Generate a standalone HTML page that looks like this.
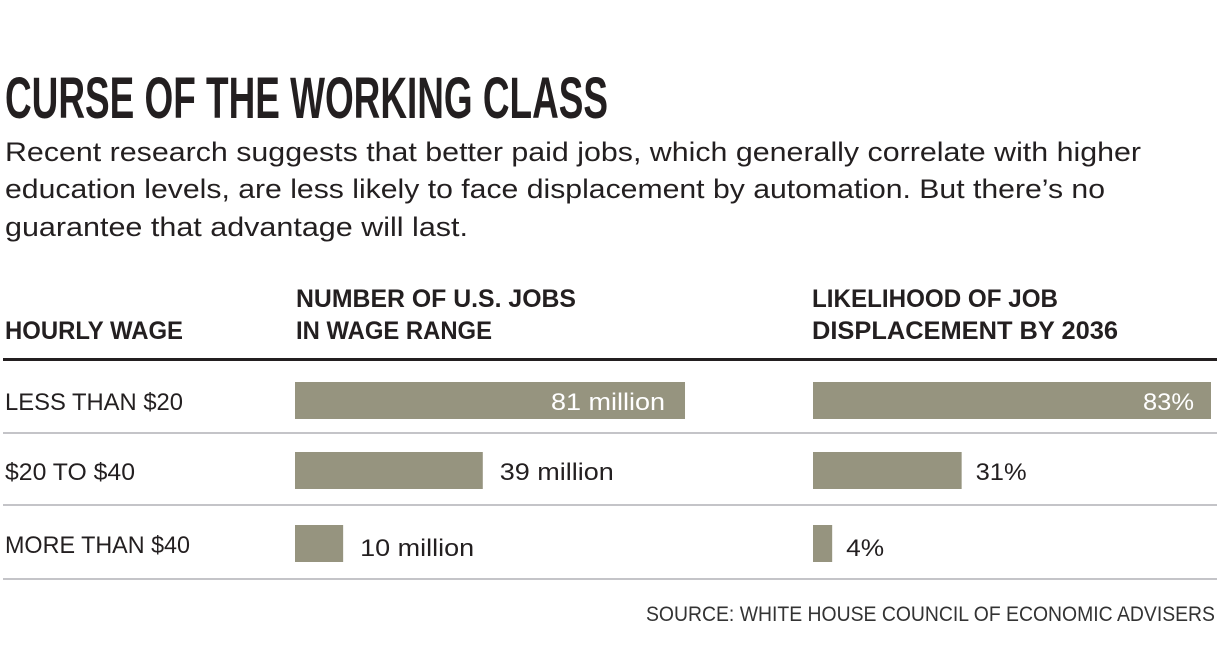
<!DOCTYPE html>
<html><head><meta charset="utf-8"><style>
html,body{margin:0;padding:0;background:#fff;}
svg{display:block;}
text{font-family:"Liberation Sans Narrow","Liberation Sans",sans-serif;}
</style></head><body>
<svg id="chart" width="1220" height="666" viewBox="0 0 1220 666" fill="#231f20">
<text x="5" y="118" font-size="58" font-weight="bold" textLength="603" lengthAdjust="spacingAndGlyphs">CURSE OF THE WORKING CLASS</text>
<g>
<text x="5" y="161" font-size="27" textLength="1136" lengthAdjust="spacingAndGlyphs">Recent research suggests that better paid jobs, which generally correlate with higher</text>
<text x="5" y="198" font-size="27" textLength="1100" lengthAdjust="spacingAndGlyphs">education levels, are less likely to face displacement by automation. But there’s no</text>
<text x="5" y="236" font-size="27" textLength="463" lengthAdjust="spacingAndGlyphs">guarantee that advantage will last.</text>
</g>
<text x="5" y="339" font-size="25" font-weight="bold" textLength="178" lengthAdjust="spacingAndGlyphs">HOURLY WAGE</text>
<g>
<text x="296" y="307" font-size="25" font-weight="bold" textLength="280" lengthAdjust="spacingAndGlyphs">NUMBER OF U.S. JOBS</text>
<text x="296" y="339" font-size="25" font-weight="bold" textLength="196" lengthAdjust="spacingAndGlyphs">IN WAGE RANGE</text>
</g>
<g>
<text x="812" y="307" font-size="25" font-weight="bold" textLength="246" lengthAdjust="spacingAndGlyphs">LIKELIHOOD OF JOB</text>
<text x="812" y="339" font-size="25" font-weight="bold" textLength="306" lengthAdjust="spacingAndGlyphs">DISPLACEMENT BY 2036</text>
</g>
<rect x="3" y="358" width="1214" height="3" fill="#231f20"/>
<g id="rows"></g>
<text x="1215" y="621" font-size="21" text-anchor="end" textLength="569" lengthAdjust="spacingAndGlyphs" fill="#333">SOURCE: WHITE HOUSE COUNCIL OF ECONOMIC ADVISERS</text>
</svg>
<script>
const categories = ["LESS THAN $20", "$20 TO $40", "MORE THAN $40"];
const jobsMillions = [81, 39, 10];
const displacementPct = [83, 31, 4];
const jobsLabels = ["81 million", "39 million", "10 million"];
const pctLabels = ["83%", "31%", "4%"];

const NS = "http://www.w3.org/2000/svg";
const g = document.getElementById('rows');
const xJobs = v => 295 + v * 4.815;
const xPct = v => 813 + v * 4.795;
const rowTop = [382, 452, 525];
const labelW = [178, 130, 185];
const ruleY = [433, 505, 579];
function mk(tag, attrs){const e=document.createElementNS(NS,tag);for(const k in attrs)e.setAttribute(k,attrs[k]);g.appendChild(e);return e;}
categories.forEach((c,i)=>{
  const y=rowTop[i];
  const lab=mk('text',{x:5,y:y+28,'font-size':24,textLength:labelW[i],lengthAdjust:'spacingAndGlyphs'});
  lab.textContent=c;
  
  
  const x1=xJobs(jobsMillions[i]);
  const b1=mk('rect',{x:295,y:y,width:x1-295,height:37,fill:'#96947f'});
  
  
  const inside1 = x1-295 > 200;
  const t1=mk('text',{x:inside1?x1-20:x1+17,y:y+(i===2?31:28),'font-size':24,'text-anchor':inside1?'end':'start',textLength:114,lengthAdjust:'spacingAndGlyphs',fill:inside1?'#fff':'#231f20'});
  t1.textContent=jobsLabels[i];
  
  
  const x2=xPct(displacementPct[i]);
  const b2=mk('rect',{x:813,y:y,width:x2-813,height:37,fill:'#96947f'});
  
  
  const inside2 = x2-813 > 200;
  const t2=mk('text',{x:inside2?x2-17:x2+14,y:y+(i===2?31:28),'font-size':24,'text-anchor':inside2?'end':'start',textLength:pctLabels[i].length*13+12,lengthAdjust:'spacingAndGlyphs',fill:inside2?'#fff':'#231f20'});
  t2.textContent=pctLabels[i];
  
  
  const r=mk('rect',{x:3,y:ruleY[i]-1,width:1214,height:2,fill:'#c4c4c8'});
  
  
});
</script>
</body></html>
